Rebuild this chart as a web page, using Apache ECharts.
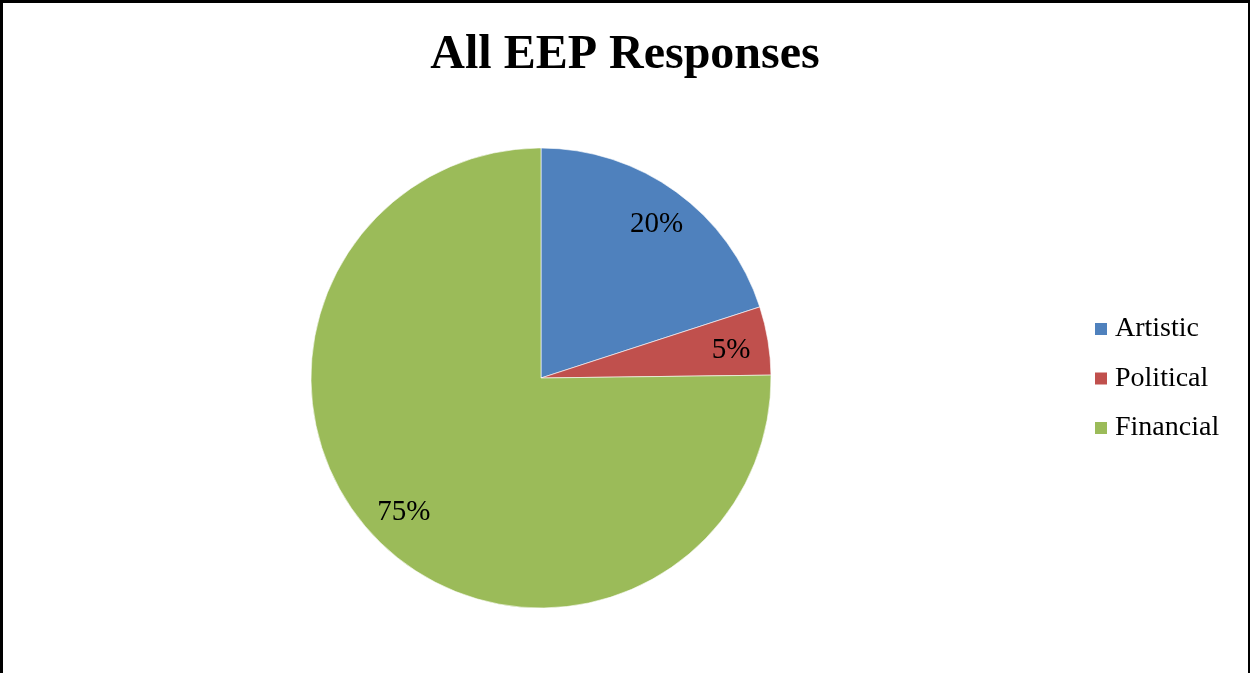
<!DOCTYPE html>
<html><head><meta charset="utf-8">
<script src="https://cdn.jsdelivr.net/npm/echarts@6/dist/echarts.min.js"></script>
<style>
html,body{margin:0;padding:0;background:#fff;}
#frame{position:absolute;left:0;top:0;width:1250px;height:673px;box-sizing:border-box;border-left:3px solid #000;border-top:3px solid #000;border-right:2px solid #000;}
#c{position:absolute;left:0;top:0;width:1250px;height:673px;}
</style></head>
<body>
<div id="c"></div><div id="frame"></div>
<script>
const titleText = "All EEP Responses";
const categories = ["Artistic", "Political", "Financial"];
const values = [20, 4.8, 75.2];
const colors = ["#4F81BD", "#C0504D", "#9BBB59"];

const data = categories.map((n, i) => ({ name: n, value: values[i], itemStyle: { color: colors[i] } }));
const font = "'Liberation Serif', 'Times New Roman', serif";
const chart = echarts.init(document.getElementById('c'), null, { renderer: 'canvas' });
chart.setOption({
  animation: false,
  backgroundColor: '#fff',
  title: { text: titleText, left: 'center', top: 27,
    textStyle: { fontFamily: font, fontSize: 48, fontWeight: 'bold', color: '#000' } },
  legend: {
    orient: 'vertical', left: 1093, top: 315, padding: 0, itemWidth: 14, itemHeight: 14, itemGap: 21.5,
    icon: 'rect', data: categories,
    textStyle: { fontFamily: font, fontSize: 28, color: '#000', lineHeight: 28, padding: [0,0,0,2] }
  },
  series: [
    { type: 'pie', name: 'main', center: [541, 378], radius: 230, startAngle: 90, clockwise: true,
      data: data, label: { show: false }, labelLine: { show: false },
      itemStyle: { borderColor: '#fff', borderWidth: 0.6 }, emphasis: { disabled: true }, silent: true },
    { type: 'pie', name: 'labels', center: [541, 378], radius: [148, 230], startAngle: 89, clockwise: true,
      percentPrecision: 0,
      data: categories.map((n, i) => ({ name: n, value: values[i], itemStyle: { color: 'rgba(0,0,0,0)' } })),
      label: { show: true, position: 'inside', formatter: '{d}%', fontFamily: font, fontSize: 29, color: '#000' },
      labelLine: { show: false }, emphasis: { disabled: true }, silent: true, tooltip: { show: false } }
  ]
});
</script>
</body></html>
